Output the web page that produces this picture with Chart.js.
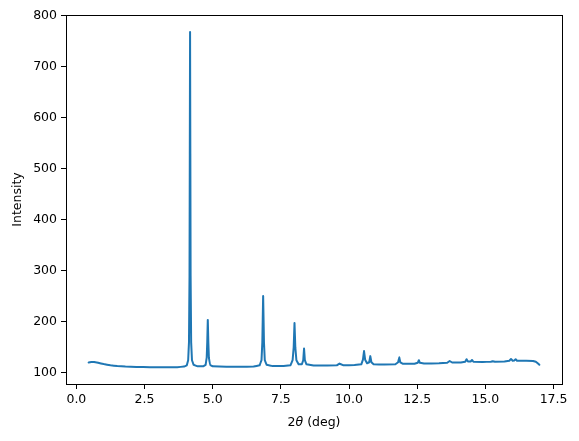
<!DOCTYPE html>
<html>
<head>
<meta charset="utf-8">
<script src="https://cdn.jsdelivr.net/npm/chart.js@4.4.1/dist/chart.umd.min.js"></script>
<style>
  html, body { margin: 0; padding: 0; background: #fff; }
  #xrd { display: block; }
</style>
</head>
<body>
<canvas id="xrd" width="579" height="441"></canvas>
<script>
// Diffraction pattern (2-theta in degrees, intensity in counts)
const twoTheta = [
  0.45, 0.55, 0.65, 0.80, 1.00, 1.25, 1.50, 1.80, 2.20, 2.70, 3.20, 3.70,
  3.95, 4.05, 4.10, 4.13, 4.15, 4.17, 4.19, 4.21, 4.24, 4.30, 4.45, 4.65,
  4.74, 4.78, 4.80, 4.82, 4.84, 4.86, 4.90, 5.00, 5.50, 6.00, 6.50,
  6.72, 6.79, 6.82, 6.85, 6.88, 6.91, 6.98, 7.20, 7.60,
  7.85, 7.93, 7.97, 8.00, 8.03, 8.07, 8.15, 8.27, 8.32, 8.35, 8.38, 8.44,
  8.70, 9.20, 9.55, 9.62, 9.65, 9.68, 9.80, 10.20,
  10.45, 10.51, 10.55, 10.59, 10.66, 10.74, 10.78, 10.82, 10.90, 11.30,
  11.70, 11.80, 11.84, 11.88, 11.98, 12.40, 12.52, 12.56, 12.60, 12.75,
  13.30, 13.60, 13.69, 13.78, 14.10, 14.26, 14.31, 14.36, 14.46, 14.51, 14.56,
  14.90, 15.20, 15.27, 15.35, 15.70, 15.88, 15.94, 16.00, 16.06, 16.11, 16.16,
  16.50, 16.75, 16.85, 16.93, 16.98
];
const intensity = [
  120.5, 121.5, 121.5, 120.0, 117.5, 115.0, 113.5, 112.5, 111.8, 111.3, 111.2, 111.4,
  112.5, 115, 125, 160, 290, 768, 290, 160, 125, 116, 113, 113,
  116, 130, 160, 204, 160, 130, 116, 113, 112, 112, 112.5,
  115, 125, 160, 251, 160, 125, 116, 113.5, 113.5,
  115, 125, 150, 198, 150, 125, 117, 117, 125, 148, 125, 117,
  114.5, 114.5, 115, 117.5, 118.5, 117.5, 115, 115.5,
  117, 126, 143, 126, 119, 121, 133, 121, 117, 116.5,
  117, 121, 131, 121, 118, 118, 120, 125, 120, 118.5,
  119, 120, 123.5, 120.5, 120.5, 122, 127, 122.5, 122.5, 125.5, 122,
  121.5, 122, 123, 122, 122.5, 124, 127.5, 124, 124.5, 127, 124,
  124, 123.5, 122, 118.5, 116
];

const xTicks = [0, 2.5, 5, 7.5, 10, 12.5, 15, 17.5];
const yTicks = [100, 200, 300, 400, 500, 600, 700, 800];

const FONT = "'DejaVu Sans', sans-serif";

// Frame on all four sides + axis titles (matplotlib look)
const framePlugin = {
    id: 'frame',
    afterDraw(chart) {
        const { ctx, chartArea: a } = chart;
        ctx.save();
        ctx.strokeStyle = '#000';
        ctx.lineWidth = 1;
        ctx.strokeRect(Math.round(a.left) + 0.5, Math.round(a.top) + 0.5,
            Math.round(a.right - a.left), Math.round(a.bottom - a.top));

        // x title: "2θ (deg)" with italic theta
        ctx.fillStyle = '#000';
        ctx.textBaseline = 'alphabetic';
        const up = '12.5px ' + FONT;
        const it = 'oblique 12.5px ' + FONT;
        const parts = [['2', up], ['\u03b8', it], [' (deg)', up]];
        let w = 0;
        parts.forEach(p => { ctx.font = p[1]; w += ctx.measureText(p[0]).width; });
        let x = (a.left + a.right) / 2 - w / 2;
        parts.forEach(p => {
            ctx.font = p[1];
            ctx.fillText(p[0], x, 426);
            x += ctx.measureText(p[0]).width;
        });

        // y title
        ctx.font = up;
        ctx.textAlign = 'center';
        ctx.translate(21, (a.top + a.bottom) / 2);
        ctx.rotate(-Math.PI / 2);
        ctx.fillText('Intensity', 0, 0);
        ctx.restore();
    }
};

const ctx = document.getElementById('xrd').getContext('2d');
new Chart(ctx, {
    type: 'line',
    data: {
        datasets: [{
            data: twoTheta.map((x, i) => ({ x: x, y: intensity[i] })),
            borderColor: '#1f77b4',
            borderWidth: 2,
            borderJoinStyle: 'round',
            borderCapStyle: 'round',
            pointRadius: 0,
            // tiny tension so Chart.js skips its per-pixel fast path (it garbles narrow peaks)
            tension: 0.000001,
            fill: false
        }]
    },
    options: {
        responsive: false,
        animation: false,
        layout: { padding: { left: 0, right: 17, top: 15, bottom: 0 } },
        plugins: {
            legend: { display: false },
            tooltip: { enabled: false }
        },
        scales: {
            x: {
                type: 'linear',
                min: -0.38,
                max: 17.81,
                afterBuildTicks: s => { s.ticks = xTicks.map(v => ({ value: v })); },
                afterFit: s => { s.height = 57; },
                border: { display: false },
                grid: { drawOnChartArea: false, drawTicks: true, tickLength: 5, color: '#000', tickColor: '#000' },
                ticks: {
                    color: '#000',
                    padding: 3,
                    maxRotation: 0,
                    font: { family: FONT, size: 12.5 },
                    callback: v => v.toFixed(1)
                }
            },
            y: {
                type: 'linear',
                min: 78.4,
                max: 801.4,
                afterBuildTicks: s => { s.ticks = yTicks.map(v => ({ value: v })); },
                afterFit: s => { s.width = 66; },
                border: { display: false },
                grid: { drawOnChartArea: false, drawTicks: true, tickLength: 5, color: '#000', tickColor: '#000' },
                ticks: {
                    color: '#000',
                    padding: 4,
                    font: { family: FONT, size: 12.5 },
                    callback: v => String(v)
                }
            }
        }
    },
    plugins: [framePlugin]
});
</script>
</body>
</html>
